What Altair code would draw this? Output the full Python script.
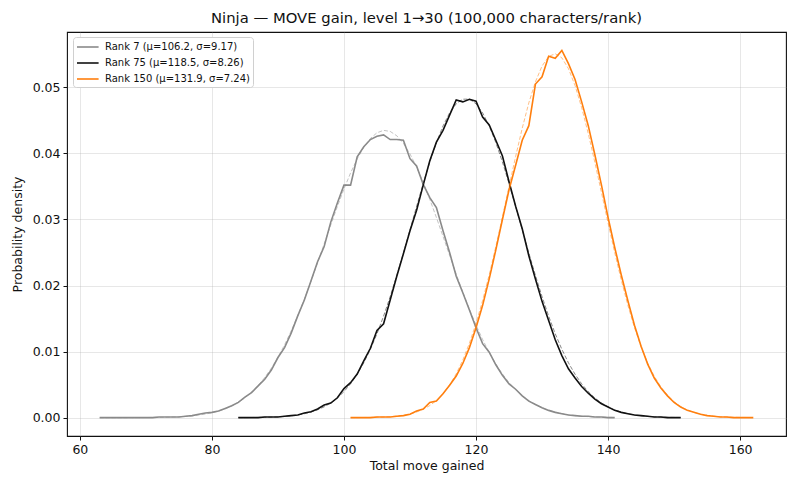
import altair as alt
import pandas as pd

# Ranks and their fitted normal parameters (legend labels)
ranks = ["Rank 7", "Rank 75", "Rank 150"]
labels = [
    "Rank 7 (μ=106.2, σ=9.17)",
    "Rank 75 (μ=118.5, σ=8.26)",
    "Rank 150 (μ=131.9, σ=7.24)",
]
colors = ["#8a8a8a", "#111111", "#ff7f0e"]

# first / last move value observed per rank
x_start = [63, 84, 101]
x_end = [141, 151, 162]

# empirical density (solid lines)
rank7_density = [
    0.0000, 0.0000, 0.0000, 0.0000, 0.0000, 0.0000, 0.0000, 0.0000, 0.0000, 0.0001,
    0.0001, 0.0001, 0.0001, 0.0002, 0.0003, 0.0005, 0.0007, 0.0008, 0.0010, 0.0014,
    0.0018, 0.0023, 0.0031, 0.0038, 0.0048, 0.0058, 0.0072, 0.0091, 0.0106, 0.0128,
    0.0154, 0.0178, 0.0207, 0.0236, 0.0259, 0.0296, 0.0325, 0.0352, 0.0352, 0.0395,
    0.0410, 0.0421, 0.0426, 0.0428, 0.0421, 0.0421, 0.0420, 0.0392, 0.0381, 0.0353,
    0.0333, 0.0318, 0.0283, 0.0250, 0.0214, 0.0189, 0.0163, 0.0136, 0.0112, 0.0099,
    0.0080, 0.0064, 0.0051, 0.0043, 0.0033, 0.0025, 0.0020, 0.0015, 0.0011, 0.0008,
    0.0006, 0.0004, 0.0003, 0.0002, 0.0002, 0.0001, 0.0001, 0.0000, 0.0000,
]
rank75_density = [
    0.0000, 0.0000, 0.0000, 0.0000, 0.0001, 0.0001, 0.0001, 0.0002, 0.0003, 0.0004,
    0.0007, 0.0009, 0.0013, 0.0019, 0.0022, 0.0030, 0.0044, 0.0053, 0.0066, 0.0086,
    0.0105, 0.0132, 0.0142, 0.0178, 0.0214, 0.0248, 0.0283, 0.0314, 0.0352, 0.0389,
    0.0417, 0.0435, 0.0458, 0.0481, 0.0478, 0.0482, 0.0479, 0.0455, 0.0443, 0.0420,
    0.0396, 0.0357, 0.0320, 0.0286, 0.0245, 0.0210, 0.0176, 0.0147, 0.0118, 0.0094,
    0.0074, 0.0060, 0.0047, 0.0037, 0.0028, 0.0021, 0.0016, 0.0011, 0.0008, 0.0006,
    0.0004, 0.0003, 0.0002, 0.0001, 0.0001, 0.0000, 0.0000, 0.0000,
]
rank150_density = [
    0.0000, 0.0000, 0.0000, 0.0000, 0.0001, 0.0001, 0.0001, 0.0002, 0.0003, 0.0005,
    0.0010, 0.0013, 0.0023, 0.0025, 0.0036, 0.0049, 0.0063, 0.0082, 0.0106, 0.0136,
    0.0170, 0.0210, 0.0254, 0.0300, 0.0345, 0.0382, 0.0420, 0.0442, 0.0505, 0.0516,
    0.0547, 0.0544, 0.0556, 0.0536, 0.0512, 0.0478, 0.0442, 0.0398, 0.0352, 0.0303,
    0.0258, 0.0216, 0.0177, 0.0140, 0.0108, 0.0081, 0.0060, 0.0045, 0.0033, 0.0023,
    0.0016, 0.0011, 0.0008, 0.0005, 0.0003, 0.0002, 0.0001, 0.0001, 0.0000, 0.0000,
    0.0000, 0.0000,
]

# normal fit (dashed lines)
rank7_fit = [
    0.00000, 0.00000, 0.00000, 0.00000, 0.00000, 0.00001, 0.00001, 0.00002, 0.00003, 0.00004,
    0.00006, 0.00009, 0.00013, 0.00019, 0.00027, 0.00039, 0.00054, 0.00073, 0.00100, 0.00134,
    0.00177, 0.00232, 0.00301, 0.00385, 0.00486, 0.00607, 0.00749, 0.00914, 0.01101, 0.01312,
    0.01544, 0.01796, 0.02063, 0.02343, 0.02630, 0.02916, 0.03196, 0.03461, 0.03704, 0.03917,
    0.04093, 0.04226, 0.04313, 0.04349, 0.04333, 0.04267, 0.04152, 0.03992, 0.03793, 0.03561,
    0.03305, 0.03030, 0.02745, 0.02457, 0.02174, 0.01901, 0.01642, 0.01402, 0.01183, 0.00986,
    0.00812, 0.00661, 0.00532, 0.00423, 0.00332, 0.00258, 0.00198, 0.00150, 0.00112, 0.00083,
    0.00061, 0.00044, 0.00031, 0.00022, 0.00015, 0.00011, 0.00007, 0.00005, 0.00003,
]
rank75_fit = [
    0.00001, 0.00001, 0.00002, 0.00003, 0.00005, 0.00008, 0.00013, 0.00019, 0.00028, 0.00041,
    0.00059, 0.00084, 0.00118, 0.00163, 0.00222, 0.00298, 0.00393, 0.00512, 0.00657, 0.00830,
    0.01035, 0.01270, 0.01537, 0.01833, 0.02153, 0.02493, 0.02844, 0.03198, 0.03544, 0.03870,
    0.04164, 0.04415, 0.04614, 0.04751, 0.04821, 0.04821, 0.04751, 0.04614, 0.04415, 0.04164,
    0.03870, 0.03544, 0.03198, 0.02844, 0.02493, 0.02153, 0.01833, 0.01537, 0.01270, 0.01035,
    0.00830, 0.00657, 0.00512, 0.00393, 0.00298, 0.00222, 0.00163, 0.00118, 0.00084, 0.00059,
    0.00041, 0.00028, 0.00019, 0.00013, 0.00008, 0.00005, 0.00003, 0.00002,
]
rank150_fit = [
    0.00001, 0.00001, 0.00002, 0.00003, 0.00006, 0.00009, 0.00015, 0.00024, 0.00037, 0.00057,
    0.00085, 0.00126, 0.00183, 0.00259, 0.00361, 0.00494, 0.00663, 0.00872, 0.01127, 0.01427,
    0.01774, 0.02163, 0.02588, 0.03038, 0.03499, 0.03953, 0.04382, 0.04766, 0.05085, 0.05323,
    0.05468, 0.05509, 0.05447, 0.05283, 0.05027, 0.04694, 0.04300, 0.03864, 0.03407, 0.02947,
    0.02501, 0.02082, 0.01701, 0.01363, 0.01072, 0.00827, 0.00626, 0.00465, 0.00339, 0.00242,
    0.00170, 0.00117, 0.00079, 0.00052, 0.00034, 0.00022, 0.00014, 0.00008, 0.00005, 0.00003,
    0.00002, 0.00001,
]

x_ticks = [60, 80, 100, 120, 140, 160]
y_ticks = [0.00, 0.01, 0.02, 0.03, 0.04, 0.05]

densities = [rank7_density, rank75_density, rank150_density]
fits = [rank7_fit, rank75_fit, rank150_fit]

rows = []
for i in range(len(ranks)):
    for j, x in enumerate(range(x_start[i], x_end[i] + 1)):
        rows.append({
            "rank": ranks[i],
            "label": labels[i],
            "move": x,
            "density": densities[i][j],
            "fit": fits[i][j],
        })
df = pd.DataFrame(rows)

FONT = "DejaVu Sans"

x_enc = alt.X(
    "move:Q",
    title="Total move gained",
    scale=alt.Scale(domain=[58.05, 166.95], nice=False, zero=False),
    axis=alt.Axis(values=x_ticks, format="d"),
)
y_enc = alt.Y(
    "density:Q",
    title="Probability density",
    scale=alt.Scale(domain=[-0.00278, 0.05838], nice=False, zero=False),
    axis=alt.Axis(values=y_ticks, format=".2f"),
)
color_scale = alt.Scale(domain=labels, range=colors)

# legend handle: a line wider than its 12px layout box
handle = "M-1,0H2.6"

solid = alt.Chart(df).mark_line(strokeWidth=1.6).encode(
    x=x_enc,
    y=y_enc,
    color=alt.Color(
        "label:N",
        scale=color_scale,
        sort=labels,
        legend=alt.Legend(
            title=None,
            orient="none",
            legendX=6,
            legendY=5,
            symbolType=handle,
            symbolSize=144,
            symbolStrokeWidth=1.6,
            labelFontSize=10,
            labelFont=FONT,
            labelColor="#111",
            labelOffset=15,
            rowPadding=4,
            padding=3,
            fillColor="white",
            strokeColor="#d0d0d0",
            cornerRadius=3,
        ),
    ),
    detail="rank:N",
)

fit = alt.Chart(df).mark_line(strokeWidth=1, strokeDash=[4, 2], opacity=0.5).encode(
    x="move:Q",
    y="fit:Q",
    color=alt.Color("label:N", scale=color_scale, legend=None),
    detail="rank:N",
)

chart = (
    alt.layer(solid, fit)
    .properties(
        width=719,
        height=404,
        padding={"left": 59, "top": 24, "right": 6, "bottom": 45},
        autosize=alt.AutoSizeParams(type="none"),
        title=alt.Title(
            "Ninja — MOVE gain, level 1→30 (100,000 characters/rank)",
            font=FONT,
            fontSize=14.8,
            fontWeight="normal",
            color="#111",
            offset=6,
        ),
    )
    .configure_view(stroke="#111", strokeWidth=1.1)
    .configure_axis(
        labelFont=FONT,
        labelFontSize=12.5,
        labelColor="#111",
        titleFont=FONT,
        titleFontSize=12.5,
        titleFontWeight="normal",
        titleColor="#111",
        tickColor="#111",
        tickSize=4,
        domain=False,
        grid=True,
        gridColor="#b0b0b0",
        gridOpacity=0.3,
        labelPadding=3,
    )
    .configure_axisX(titlePadding=4)
    .configure_axisY(titlePadding=8)
)

chart.save("out.html", embed_options={"renderer": "svg", "actions": False})
